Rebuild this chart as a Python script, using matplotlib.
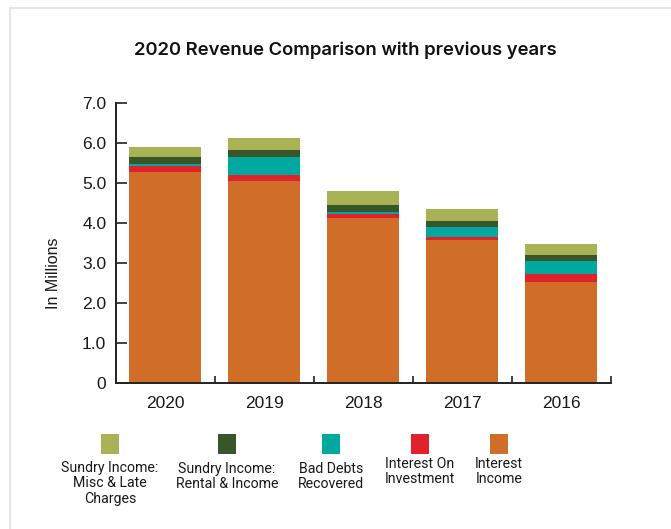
import matplotlib
matplotlib.use("Agg")
import matplotlib.pyplot as plt
from matplotlib.patches import Rectangle
from matplotlib.lines import Line2D
import numpy as np

plt.rcParams["font.family"] = ["Liberation Sans", "DejaVu Sans"]

years = ["2020", "2019", "2018", "2017", "2016"]
interest_income = [5.27, 5.04, 4.12, 3.57, 2.52]
interest_investment = [0.15, 0.15, 0.11, 0.07, 0.20]
bad_debts = [0.06, 0.45, 0.04, 0.25, 0.32]
sundry_rental = [0.17, 0.18, 0.17, 0.15, 0.15]
sundry_misc = [0.24, 0.30, 0.35, 0.30, 0.28]

series_labels = [
    "Sundry Income:\nMisc & Late\nCharges",
    "Sundry Income:\nRental & Income",
    "Bad Debts\nRecovered",
    "Interest On\nInvestment",
    "Interest\nIncome",
]
colors = ["#a9b356", "#38562a", "#00a89f", "#e2222b", "#cf6d29"]
y_ticks = [0, 1, 2, 3, 4, 5, 6, 7]

W, H = 671, 529
fig = plt.figure(figsize=(W / 100, H / 100), dpi=100)
ax = fig.add_axes([116 / W, 1 - 383 / H, (610.5 - 116) / W, (383 - 102.7) / H])

x = np.arange(len(years))
stack = [interest_income, interest_investment, bad_debts, sundry_rental, sundry_misc]
stack_colors = colors[::-1]
bottom = np.zeros(len(years))
for vals, c in zip(stack, stack_colors):
    ax.bar(x, vals, width=0.727, bottom=bottom, color=c, linewidth=0)
    bottom += np.array(vals)

ax.set_xlim(-0.5, len(years) - 0.5)
ax.set_ylim(0, 7)
ax.set_yticks(y_ticks)
ax.set_yticklabels(["0" if v == 0 else f"{v:.1f}" for v in y_ticks])
ax.set_xticks(x)
ax.set_xticklabels(years)
ax.set_xticks(np.arange(0.5, len(years)), minor=True)

for s in ["top", "right"]:
    ax.spines[s].set_visible(False)
for s in ["left", "bottom"]:
    ax.spines[s].set_color("#222222")
    ax.spines[s].set_linewidth(1.4)

ax.tick_params(axis="y", direction="in", length=8, width=1.2, color="#222222",
               labelsize=12.5, pad=7, labelcolor="#1a1a1a")
ax.tick_params(axis="x", which="major", length=0, labelsize=12.5, pad=9,
               labelcolor="#1a1a1a")
ax.tick_params(axis="x", which="minor", direction="in", length=5, width=1.2,
               color="#222222")

fig.text(54 / W, 1 - 273 / H, "In Millions", rotation=90, ha="center", va="center",
         fontsize=11.5, color="#1a1a1a")

fig.text(345 / W, 1 - 50 / H, "2020 Revenue Comparison with previous years",
         ha="center", va="center", fontsize=13.3, fontweight="semibold",
         family=["Inter", "DejaVu Sans"], color="#111111")

# legend built from swatches and captions
legend_font = ["Roboto", "DejaVu Sans"]
sw_centers = [110, 227, 331, 420, 499]
text_tops = [461, 462, 462, 457, 457]
for cx, ty, c, lab in zip(sw_centers, text_tops, colors, series_labels):
    fig.patches.append(Rectangle(((cx - 9) / W, 1 - 454 / H), 18 / W, 20 / H,
                                 transform=fig.transFigure, color=c, linewidth=0))
    fig.text(cx / W, 1 - ty / H, lab, ha="center", va="top", fontsize=10.2,
             linespacing=1.12, color="#1a1a1a", family=legend_font)

# light frame at the top and left edges
fig.add_artist(Line2D([10 / W, 1], [1 - 8 / H, 1 - 8 / H], transform=fig.transFigure,
                      color="#e2e2e2", linewidth=1.2))
fig.add_artist(Line2D([10 / W, 10 / W], [0, 1 - 8 / H], transform=fig.transFigure,
                      color="#e2e2e2", linewidth=1.2))

fig.savefig("out.png", dpi=100, facecolor="white")
